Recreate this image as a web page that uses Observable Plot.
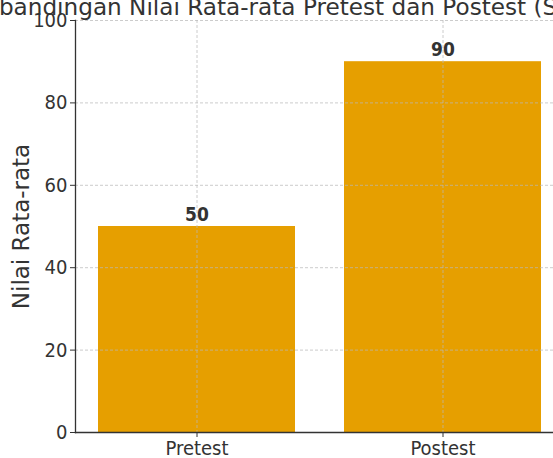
<!DOCTYPE html>
<html>
<head>
<meta charset="utf-8">
<script src="https://cdn.jsdelivr.net/npm/d3@7"></script>
<script src="https://cdn.jsdelivr.net/npm/@observablehq/plot@0.6"></script>
<style>
  html, body { margin: 0; padding: 0; background: #fff; overflow: hidden; width: 553px; height: 458px; }
  #wrap { position: relative; width: 553px; height: 458px; overflow: hidden; }
  #title { position: absolute; top: -6px; left: -38px; width: 591px; overflow: hidden; white-space: nowrap;
           font-family: "DejaVu Sans", sans-serif; font-size: 23.15px; color: #333; line-height: 26px; }
  #chart { position: absolute; top: 0; left: 0; width: 553px; height: 458px; overflow: hidden; }
  #chart svg { display: block; }
</style>
</head>
<body>
<div id="wrap">
  <div id="chart"></div>
  <div id="title">Perbandingan Nilai Rata-rata Pretest dan Postest (Siklus I)</div>
</div>
<script>
const categories = ["Pretest", "Postest"];
const values = [50, 90];
const yTicks = [0, 20, 40, 60, 80, 100];
const yLabel = "Nilai Rata-rata";

const data = categories.map((c, i) => ({category: c, value: values[i]}));
const ink = "#333333";
const gridStyle = {stroke: "#b8b8b8", strokeDasharray: "3,2", strokeWidth: 0.8, strokeOpacity: 0.9};

const chart = Plot.plot({
  width: 553,
  height: 458,
  marginLeft: 75,
  marginRight: 0,
  marginTop: 20,
  marginBottom: 26,
  style: {background: "#fff", color: ink, fontFamily: "DejaVu Sans"},
  x: {domain: categories, range: [75, 564], paddingInner: 0.2, paddingOuter: 0.09, label: null},
  y: {domain: [0, 100], label: null},
  marks: [
    Plot.barY(data, {x: "category", y: "value", fill: "#E69F00"}),
    Plot.gridY(yTicks, gridStyle),
    Plot.gridX(categories, gridStyle),
    Plot.frame({anchor: "left", stroke: ink, strokeWidth: 1.3}),
    Plot.frame({anchor: "bottom", stroke: ink, strokeWidth: 1.3}),
    Plot.axisY({ticks: yTicks, tickSize: 5, tickPadding: 3, fontSize: 20,
                fontFamily: "DejaVu Sans Condensed", stroke: ink,
                label: yLabel, labelAnchor: "center", labelArrow: "none", labelOffset: 63}),
    Plot.axisX({tickSize: 5, tickPadding: 3, fontSize: 20, fontFamily: "DejaVu Sans Condensed", stroke: ink, label: null}),
    Plot.text(data, {x: "category", y: "value", text: d => String(d.value), lineAnchor: "bottom", dy: -6,
                     fontWeight: "bold", fontSize: 19, fontFamily: "DejaVu Sans Condensed", fill: ink})
  ]
});
document.getElementById("chart").appendChild(chart);
chart.querySelectorAll("g[aria-label='y-axis label'] text").forEach(t => {
  t.style.fontSize = "23px"; t.style.fontFamily = "DejaVu Sans";
});
</script>
</body>
</html>
